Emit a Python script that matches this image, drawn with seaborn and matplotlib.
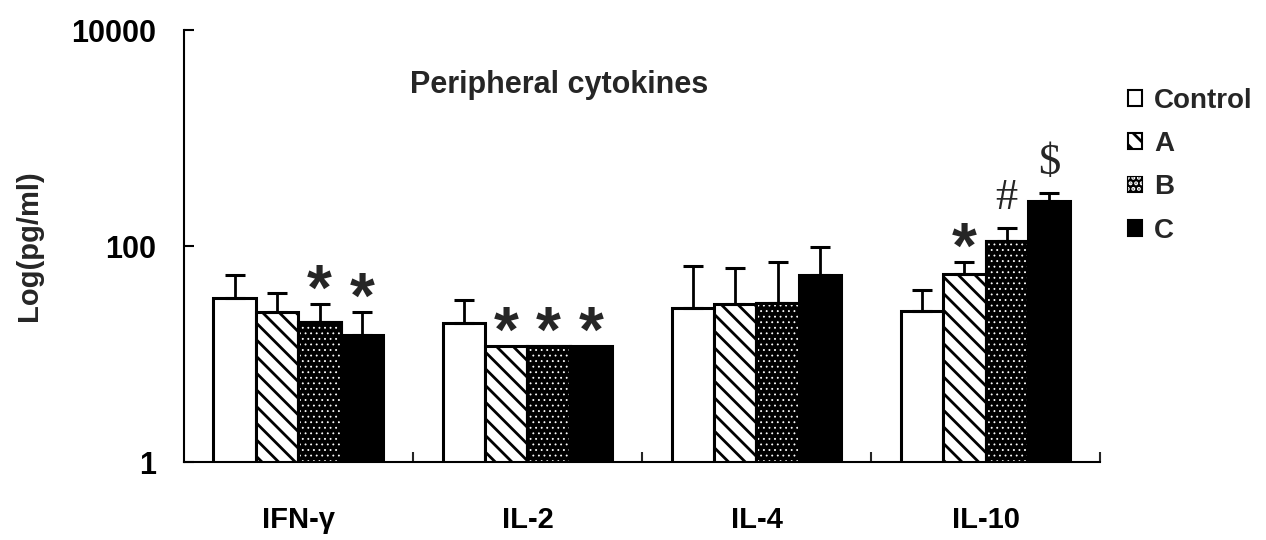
"""
Peripheral cytokines - grouped bar chart on a log axis.
"""

import numpy as np
import pandas as pd
import matplotlib
matplotlib.use("Agg")
import matplotlib.pyplot as plt
import seaborn as sns
from matplotlib.patches import Patch
from matplotlib.legend_handler import HandlerTuple
from matplotlib.ticker import FixedLocator, NullFormatter


# ─────────────────────────────────────────────
#  Data
# ─────────────────────────────────────────────

cytokines = ["IFN-γ", "IL-2", "IL-4", "IL-10"]
groups = ["Control", "A", "B", "C"]

control_mean = [33.2, 19.2, 26.5, 25.2]
a_mean = [24.3, 11.9, 28.8, 55.0]
b_mean = [19.9, 11.9, 29.5, 112.0]
c_mean = [15.0, 11.9, 53.5, 263.0]

control_err = [20.4, 12.4, 38.8, 13.9]
a_err = [12.2, 0.0, 34.2, 15.6]
b_err = [9.1, 0.0, 41.6, 35.7]
c_err = [9.3, 0.0, 45.1, 48.6]

# (cytokine index, group index, symbol)
sig_marks = [(0, 2, "*"), (0, 3, "*"),
             (1, 1, "*"), (1, 2, "*"), (1, 3, "*"),
             (3, 1, "*"), (3, 2, "#"), (3, 3, "$")]

y_ticks = [1, 100, 10000]
y_ticklabels = ["1", "100", "10000"]


# ─────────────────────────────────────────────
#  Build frame
# ─────────────────────────────────────────────

means = [control_mean, a_mean, b_mean, c_mean]
errs = [control_err, a_err, b_err, c_err]

rows = []
for g, m in zip(groups, means):
    for c, v in zip(cytokines, m):
        rows.append({"cytokine": c, "group": g, "value": v})
df = pd.DataFrame(rows)

sns.set_theme(style="ticks")
plt.rcParams["font.family"] = ["Liberation Sans", "DejaVu Sans"]
plt.rcParams["font.weight"] = "bold"
plt.rcParams["hatch.linewidth"] = 2.0

fig = plt.figure(figsize=(12.66, 5.4), dpi=100)
ax = fig.add_axes([0.1453, 0.1444, 0.7236, 0.80])

palette = {"Control": "white", "A": "white", "B": "black", "C": "black"}
sns.barplot(data=df, x="cytokine", y="value", hue="group",
            order=cytokines, hue_order=groups, palette=palette,
            width=0.742, gap=0, errorbar=None, edgecolor="black",
            linewidth=2.2, legend=False, ax=ax, zorder=2)
ax.set_yscale("log")
ax.set_ylim(1, 10000)
ax.set_xlim(-0.5, 3.5)


def dot_overlay(p):
    # white speckle on the black B bars
    if hasattr(p, "set_hatch_linewidth"):
        p.set_hatch_linewidth(0.6)


for patch in ax.containers[1]:
    patch.set_hatch("\\\\")
for patch in list(ax.containers[2]):
    x0, w, h = patch.get_x(), patch.get_width(), patch.get_height()
    ov = ax.bar(x0, h, width=w, align="edge", bottom=0,
                facecolor="none", edgecolor="white", linewidth=0,
                hatch="...", zorder=2.5)
    for p in ov:
        dot_overlay(p)
    ax.bar(x0, h, width=w, align="edge", facecolor="none",
           edgecolor="black", linewidth=2.2, zorder=2.6)

# one-sided error bars
for gi, cont in enumerate(ax.containers[:4]):
    for ci, patch in enumerate(cont):
        xc = patch.get_x() + patch.get_width() / 2
        e = errs[gi][ci]
        if e > 0:
            ax.errorbar(xc, means[gi][ci], yerr=[[0], [e]], fmt="none",
                        ecolor="black", elinewidth=2.0, capsize=7.5,
                        capthick=2.2, zorder=3)

# significance marks
for ci, gi, sym in sig_marks:
    patch = ax.containers[gi][ci]
    xc = patch.get_x() + patch.get_width() / 2
    ytop = means[gi][ci] + errs[gi][ci]
    if sym == "*":
        ax.annotate(sym, (xc, ytop), xytext=(0, -4), textcoords="offset points",
                    ha="center", va="baseline", fontsize=46, fontweight="bold")
    else:
        ax.annotate(sym, (xc, ytop), xytext=(0, 7), textcoords="offset points",
                    ha="center", va="bottom", fontsize=32, fontweight="normal",
                    family=["Liberation Serif", "DejaVu Serif"])

# ─────────────────────────────────────────────
#  Axes styling
# ─────────────────────────────────────────────

sns.despine(ax=ax)
for s in ["left", "bottom"]:
    ax.spines[s].set_linewidth(1.5)
    ax.spines[s].set_color("black")

ax.yaxis.set_major_locator(FixedLocator(y_ticks))
ax.set_yticklabels(y_ticklabels)
ax.yaxis.set_minor_locator(FixedLocator([]))
ax.tick_params(axis="y", which="major", direction="in", length=7, width=1.5,
               pad=20, labelsize=22, colors="black")

ax.set_xticks(range(len(cytokines)))
ax.set_xticklabels(cytokines)
ax.xaxis.set_minor_locator(FixedLocator([0.5, 1.5, 2.5, 3.5]))
ax.xaxis.set_minor_formatter(NullFormatter())
ax.tick_params(axis="x", which="major", length=0, pad=32, labelsize=21,
               colors="black")
ax.tick_params(axis="x", which="minor", direction="in", length=7, width=1.5)
for lab in ax.get_xticklabels() + ax.get_yticklabels():
    lab.set_fontweight("bold")

ax.set_xlabel("")
ax.set_ylabel("Log(pg/ml)", fontsize=21, fontweight="bold", labelpad=20)
ax.grid(False)

ax.text(0.41, 0.873, "Peripheral cytokines", transform=ax.transAxes,
        ha="center", va="center", fontsize=22, fontweight="bold")

# legend
h_ctrl = Patch(facecolor="white", edgecolor="black", linewidth=1.5)
h_a = Patch(facecolor="white", edgecolor="black", linewidth=1.5, hatch="\\\\")
h_b_dots = Patch(facecolor="none", edgecolor="white", linewidth=0, hatch="...")
dot_overlay(h_b_dots)
h_b = (Patch(facecolor="black", edgecolor="black", linewidth=1.5), h_b_dots)
h_c = Patch(facecolor="black", edgecolor="black", linewidth=1.5)
fig.legend([h_ctrl, h_a, h_b, h_c], groups, loc="upper left",
           bbox_to_anchor=(0.880, 0.863), frameon=False, borderpad=0,
           handlelength=0.5, handleheight=0.5,
           handletextpad=0.45, labelspacing=0.62,
           handler_map={tuple: HandlerTuple(ndivide=1)},
           prop={"weight": "bold", "size": 20})

fig.savefig("out.png", dpi=100)
plt.close(fig)
